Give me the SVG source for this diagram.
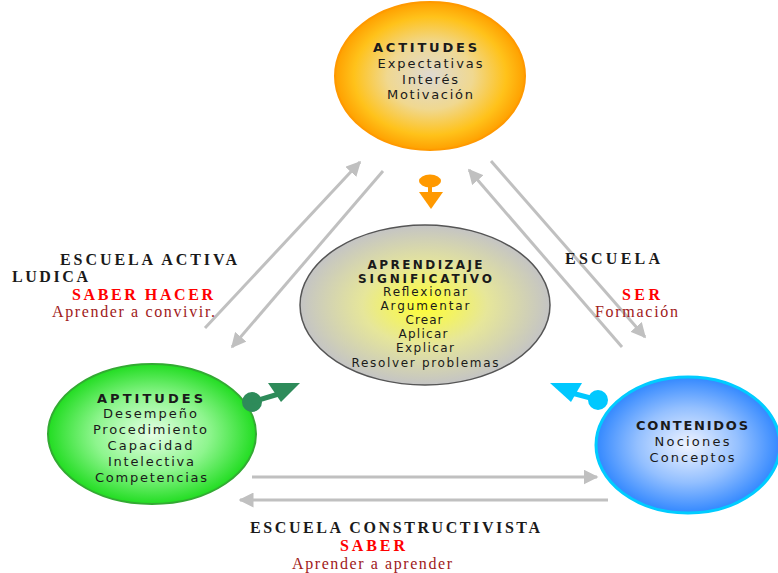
<svg xmlns="http://www.w3.org/2000/svg" width="778" height="573" viewBox="0 0 778 573">
<defs>
<radialGradient id="gOrange" cx="50%" cy="50%" r="50%">
<stop offset="0" stop-color="#dedad2"/>
<stop offset="0.45" stop-color="#f0d890"/>
<stop offset="0.8" stop-color="#ffc21a"/>
<stop offset="1" stop-color="#ffa000"/>
</radialGradient>
<radialGradient id="gCenter" cx="50%" cy="50%" r="50%">
<stop offset="0" stop-color="#ffff30"/>
<stop offset="0.5" stop-color="#e6e69a"/>
<stop offset="1" stop-color="#c4c4c4"/>
</radialGradient>
<radialGradient id="gGreen" cx="50%" cy="50%" r="50%">
<stop offset="0" stop-color="#e6ffe6"/>
<stop offset="0.55" stop-color="#8ef58e"/>
<stop offset="1" stop-color="#22dd22"/>
</radialGradient>
<radialGradient id="gBlue" cx="50%" cy="50%" r="50%">
<stop offset="0" stop-color="#f0f4ff"/>
<stop offset="0.55" stop-color="#94c0ff"/>
<stop offset="1" stop-color="#3388ff"/>
</radialGradient>
<marker id="ah" viewBox="0 0 10 10" refX="9" refY="5" markerWidth="5" markerHeight="5" markerUnits="strokeWidth" orient="auto">
<path d="M0,0 L10,5 L0,10 z" fill="#c0c0c0"/>
</marker>
</defs>
<style>
.sans{font-family:"DejaVu Sans","Verdana",sans-serif;font-size:13px;fill:#1a1a1a;text-anchor:middle}
.sm{font-size:12px}
.b{font-weight:bold}
.serif{font-family:"Liberation Serif","Times New Roman",serif;font-size:16px}
.blk{fill:#1a1a1a;font-weight:bold}
.red{fill:#ff0000;font-weight:bold}
.dred{fill:#a02020}
.conn line{stroke:#c0c0c0;stroke-width:3;marker-end:url(#ah)}
</style>

<g class="conn" id="connectors">
<line x1="205" y1="328" x2="360" y2="162"/>
<line x1="383" y1="171" x2="232" y2="347"/>
<line x1="622" y1="347" x2="469" y2="170"/>
<line x1="491" y1="161" x2="645" y2="337"/>
<line x1="252" y1="477" x2="597" y2="477"/>
<line x1="608" y1="500" x2="240" y2="500"/>
</g>

<g id="actitudes">
<ellipse cx="430" cy="76" rx="95" ry="74" fill="url(#gOrange)" stroke="#ff9900" stroke-width="2"/>
<text class="sans b" x="425" y="52" textLength="104" lengthAdjust="spacing">ACTITUDES</text>
<text class="sans" x="430" y="68" textLength="105" lengthAdjust="spacing">Expectativas</text>
<text class="sans" x="430" y="84" textLength="56" lengthAdjust="spacing">Interés</text>
<text class="sans" x="430" y="99" textLength="86" lengthAdjust="spacing">Motivación</text>
</g>

<g id="aprendizaje">
<ellipse cx="425" cy="305" rx="125" ry="80" fill="url(#gCenter)" stroke="#555555" stroke-width="1.5"/>
<text class="sans sm b" x="425" y="269" textLength="115" lengthAdjust="spacing">APRENDIZAJE</text>
<text class="sans sm b" x="425" y="283" textLength="134" lengthAdjust="spacing">SIGNIFICATIVO</text>
<text class="sans sm" x="425" y="296" textLength="84" lengthAdjust="spacing">Reflexionar</text>
<text class="sans sm" x="425" y="310" textLength="89" lengthAdjust="spacing">Argumentar</text>
<text class="sans sm" x="424" y="324" textLength="37" lengthAdjust="spacing">Crear</text>
<text class="sans sm" x="423" y="338" textLength="49" lengthAdjust="spacing">Aplicar</text>
<text class="sans sm" x="425" y="352" textLength="58" lengthAdjust="spacing">Explicar</text>
<text class="sans sm" x="425" y="367" textLength="147" lengthAdjust="spacing">Resolver problemas</text>
</g>

<g id="aptitudes">
<ellipse cx="152" cy="434" rx="104" ry="70" fill="url(#gGreen)" stroke="#33aa33" stroke-width="2"/>
<text class="sans b" x="150" y="403" textLength="106" lengthAdjust="spacing">APTITUDES</text>
<text class="sans" x="150" y="418" textLength="94" lengthAdjust="spacing">Desempeño</text>
<text class="sans" x="150" y="434" textLength="114" lengthAdjust="spacing">Procedimiento</text>
<text class="sans" x="150" y="450" textLength="85" lengthAdjust="spacing">Capacidad</text>
<text class="sans" x="151" y="466" textLength="86" lengthAdjust="spacing">Intelectiva</text>
<text class="sans" x="151" y="482" textLength="112" lengthAdjust="spacing">Competencias</text>
</g>

<g id="contenidos">
<ellipse cx="688" cy="445" rx="92" ry="68" fill="url(#gBlue)" stroke="#00ccff" stroke-width="3"/>
<text class="sans b" x="692" y="430" textLength="112" lengthAdjust="spacing">CONTENIDOS</text>
<text class="sans" x="692" y="446" textLength="75" lengthAdjust="spacing">Nociones</text>
<text class="sans" x="692" y="462" textLength="85" lengthAdjust="spacing">Conceptos</text>
</g>

<g id="arrow-orange" fill="#ff9900">
<ellipse cx="430" cy="181" rx="11" ry="6.5"/>
<rect x="428" y="185" width="4" height="8"/>
<polygon points="419,192 443,192 431,209"/>
</g>
<g id="arrow-green" fill="#2e8b5a">
<circle cx="252" cy="402" r="10"/>
<line x1="252" y1="402" x2="282" y2="393" stroke="#2e8b5a" stroke-width="5"/>
<polygon points="268,383 300,383 281,402"/>
</g>
<g id="arrow-cyan" fill="#00c8ff">
<circle cx="598" cy="400" r="10"/>
<line x1="598" y1="400" x2="568" y2="392" stroke="#00c8ff" stroke-width="5"/>
<polygon points="550,383 582,383 571,402"/>
</g>

<g id="label-activa" class="serif">
<text class="blk" x="60" y="265" textLength="177" lengthAdjust="spacing">ESCUELA ACTIVA</text>
<text class="blk" x="12" y="282" textLength="76" lengthAdjust="spacing">LUDICA</text>
<text class="red" x="72" y="300" textLength="141" lengthAdjust="spacing">SABER HACER</text>
<text class="dred" x="52" y="317" textLength="163" lengthAdjust="spacing">Aprender a convivir.</text>
</g>
<g id="label-ser" class="serif">
<text class="blk" x="565" y="264" textLength="95" lengthAdjust="spacing">ESCUELA</text>
<text class="red" x="622" y="300" textLength="38" lengthAdjust="spacing">SER</text>
<text class="dred" x="595" y="317" textLength="83" lengthAdjust="spacing">Formación</text>
</g>
<g id="label-constructivista" class="serif">
<text class="blk" x="250" y="533" textLength="290" lengthAdjust="spacing">ESCUELA CONSTRUCTIVISTA</text>
<text class="red" x="340" y="551" textLength="65" lengthAdjust="spacing">SABER</text>
<text class="dred" x="292" y="569" textLength="160" lengthAdjust="spacing">Aprender a aprender</text>
</g>
</svg>
